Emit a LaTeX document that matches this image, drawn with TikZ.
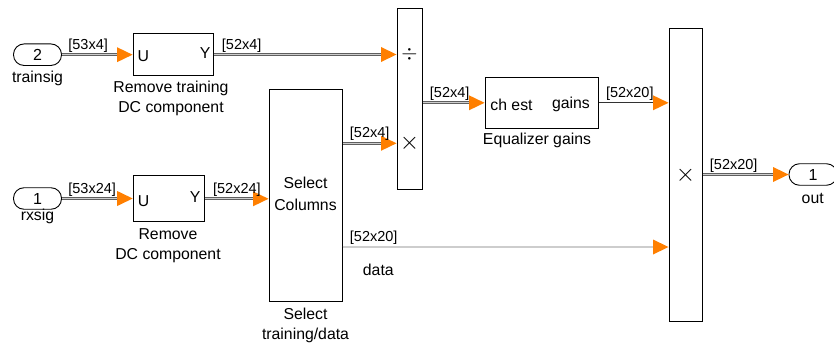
\documentclass[tikz,border=0pt]{standalone}
\usepackage{fontspec}
\setmainfont{Liberation Sans}
\usetikzlibrary{arrows.meta,calc}
\definecolor{sigorange}{RGB}{255,127,0}
\definecolor{sigedge}{RGB}{95,95,95}
\definecolor{sigfill}{RGB}{205,205,205}
\definecolor{scalarline}{RGB}{50,50,50}

\begin{document}
\begin{tikzpicture}[x=1pt,y=-1pt,
  blk/.style={draw=black, line width=1pt, fill=white, inner sep=0pt},
  iport/.style={draw=black, line width=0.9pt, rounded corners=10.5pt,
    minimum width=48pt, minimum height=21.5pt, inner sep=0pt,
    font=\fontsize{16}{18}\selectfont},
  capline/.style={inner sep=0pt, font=\fontsize{15.8}{20}\selectfont},
  captwo/.style={align=center, inner sep=0pt, font=\fontsize{15.8}{20}\selectfont},
  plbl/.style={inner sep=0pt, font=\fontsize{15.8}{18}\selectfont},
  opsym/.style={inner sep=0pt, font=\fontsize{26}{28}\selectfont},
  dim/.style={inner sep=0pt, font=\fontsize{14.5}{16}\selectfont,
    pos=0, anchor=base west, yshift=5.5pt},
  tipend/.style={-{Triangle[length=15.5pt,width=15pt,color=sigorange,fill=sigorange,line width=0pt]}},
  sig/.style={tipend, draw=sigedge, line width=0.9pt, double=sigfill, double distance=1.1pt},
  sline/.style={tipend, draw=scalarline, line width=1pt},
]
\useasboundingbox (0,0) rectangle (834,345);

% ---- input ports ----
\node[iport] (in2) at (37.5,54.7) {2};
\node[capline, anchor=base] (in2name) at (37.5,82) {trainsig};
\node[iport] (in1) at (37.5,198.5) {1};
\node[capline, anchor=base] (in1name) at (37.5,220.5) {rxsig};

% ---- DC removal blocks ----
\node[blk, minimum width=80pt, minimum height=41pt] (rtr) at (173,54.5) {};
\node[plbl, anchor=west] (rtrU) at ([xshift=5pt,yshift=-2pt]rtr.west) {U};
\node[plbl, anchor=east] (rtrY) at ([xshift=-3pt,yshift=1pt]rtr.east) {Y};
\node[captwo] (rtrcap) at (171,98) {Remove training\\DC component};

\node[blk, minimum width=71pt, minimum height=46pt] (rdc) at (168.7,198.8) {};
\node[plbl, anchor=west] (rdcU) at ([xshift=5pt,yshift=-2.5pt]rdc.west) {U};
\node[plbl, anchor=east] (rdcY) at ([xshift=-4pt,yshift=1.5pt]rdc.east) {Y};
\node[captwo] (rdccap) at (168,245.5) {Remove\\DC component};

% ---- column selector ----
\node[blk, minimum width=73pt, minimum height=212pt] (sel) at (305.5,195) {};
\node[captwo, font=\fontsize{15.8}{22}\selectfont] (seltxt) at (305.5,194.3) {Select\\Columns};
\node[captwo] (selcap) at (305.5,325) {Select\\training/data};
\coordinate (seldata) at ([yshift=-52pt]sel.east);

% ---- divide block ----
\node[blk, minimum width=25pt, minimum height=180.5pt] (div) at (409.5,98.75) {};
\node[inner sep=0pt, font=\fontsize{21}{24}\selectfont] (divd) at (409.5,54.5) {$\div$};
\node[opsym] (divx) at (409.5,143.3) {$\times$};

% ---- equalizer gains ----
\node[blk, minimum width=113pt, minimum height=51pt] (eq) at (541.5,102.8) {};
\node[plbl, anchor=west] (eqin) at ([xshift=5.7pt,yshift=-2.5pt]eq.west) {ch est};
\node[plbl, anchor=east] (eqout) at ([xshift=-8.5pt,yshift=-1.5pt]eq.east) {gains};
\node[capline, anchor=base] (eqcap) at (537,144) {Equalizer gains};

% ---- product block ----
\node[blk, minimum width=33pt, minimum height=292pt] (prod) at (685.5,175) {};
\node[opsym] (prodx) at (685.5,175.3) {$\times$};

% ---- output port ----
\node[iport] (out) at (813,174.5) {1};
\node[capline, anchor=base] (outname) at (812.7,203) {out};

% ---- signal lines ----
\draw[sig] (in2.east) -- (in2.east -| rtr.west)
  node[dim, xshift=6pt] {[53x4]};
\draw[sig] (rtr.east) -- (rtr.east -| div.west)
  node[dim, xshift=8pt] {[52x4]};
\draw[sig] (in1.east) -- (in1.east -| rdc.west)
  node[dim, xshift=6pt] {[53x24]};
\draw[sig] (rdc.east) -- (rdc.east -| sel.west)
  node[dim, xshift=8pt] {[52x24]};
\draw[sig] (divx -| sel.east) -- (divx -| div.west)
  node[dim, xshift=7pt] {[52x4]};
\draw[sig] (eq.west -| div.east) -- (eq.west)
  node[dim, xshift=7pt] {[52x4]};
\draw[sline] (eq.east) -- (eq.east -| prod.west)
  node[dim, xshift=7pt] {[52x20]};
\draw[sig] (seldata) -- (seldata -| prod.west)
  node[dim, xshift=7pt] {[52x20]}
  node[capline, pos=0, anchor=base west, xshift=20pt, yshift=-28pt] {data};
\draw[sig] (out.west -| prod.east) -- (out.west)
  node[dim, xshift=7pt] {[52x20]};
\end{tikzpicture}
\end{document}
